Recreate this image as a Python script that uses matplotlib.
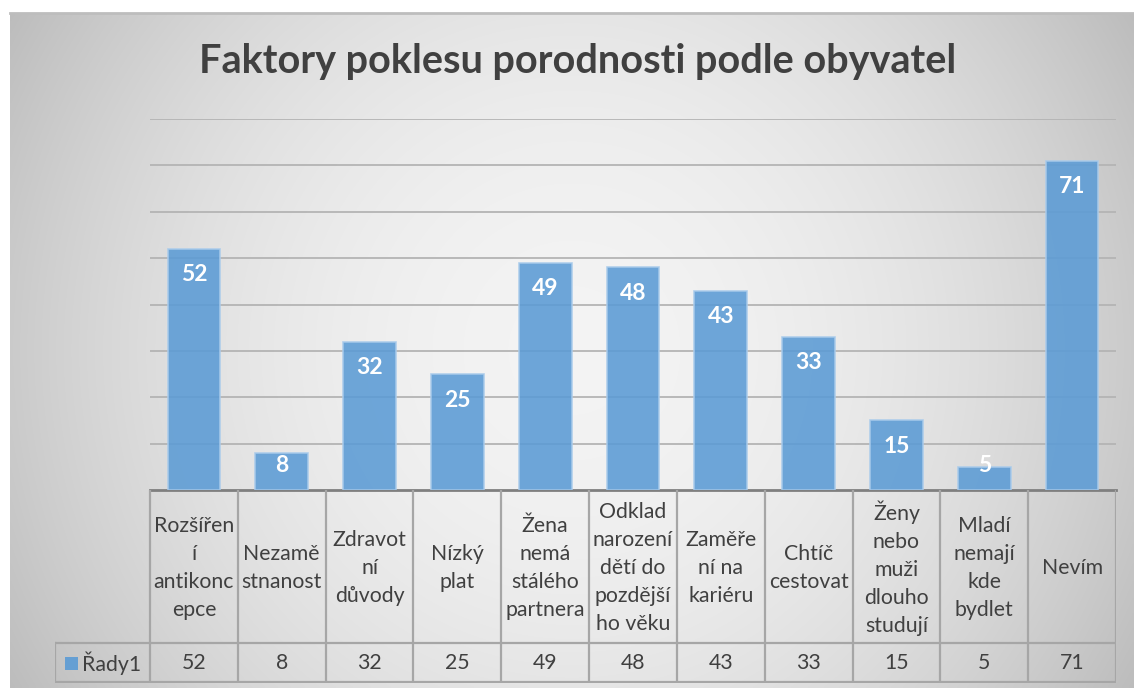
import numpy as np
import matplotlib
matplotlib.use("Agg")
import matplotlib.pyplot as plt
from matplotlib.patches import Rectangle

plt.rcParams['font.family'] = ['Lato', 'DejaVu Sans']

# ---- data ----
categories = [
    "Rozšířen\ní\nantikonc\nepce",
    "Nezamě\nstnanost",
    "Zdravot\nní\ndůvody",
    "Nízký\nplat",
    "Žena\nnemá\nstálého\npartnera",
    "Odklad\nnarození\ndětí do\npozdější\nho věku",
    "Zaměře\nní na\nkariéru",
    "Chtíč\ncestovat",
    "Ženy\nnebo\nmuži\ndlouho\nstudují",
    "Mladí\nnemají\nkde\nbydlet",
    "Nevím",
]
values = [52, 8, 32, 25, 49, 48, 43, 33, 15, 5, 71]
series_name = "Řady1"
title = "Faktory poklesu porodnosti podle obyvatel"
y_max = 80
y_step = 10

W, H = 1134, 688
fig = plt.figure(figsize=(W / 100, H / 100), dpi=100)
fig.patch.set_facecolor('white')

# ---- background gradient (chart area) ----
bx0, by0, bx1, by1 = 10, 13, 1134, 688
bg = fig.add_axes([bx0 / W, 1 - by1 / H, (bx1 - bx0) / W, (by1 - by0) / H])
nx, ny = 400, 240
xx, yy = np.meshgrid(np.linspace(-1, 1, nx), np.linspace(-1, 1, ny))
r2 = xx ** 2 + 0.35 * yy ** 2
g = 0.955 - 0.16 * r2
img = np.dstack([g, g, g])
bg.imshow(img, aspect='auto', extent=(0, 1, 0, 1), interpolation='bilinear')
bg.set_xlim(0, 1); bg.set_ylim(0, 1)
bg.set_xticks([]); bg.set_yticks([])
for s in ['left', 'right', 'bottom']:
    bg.spines[s].set_visible(False)
bg.spines['top'].set_color('#bdbdbd')
bg.spines['top'].set_linewidth(2)

# ---- main axes ----
L, R, T, B = 150, 1116, 119, 490
ax = fig.add_axes([L / W, 1 - B / H, (R - L) / W, (B - T) / H])
ax.patch.set_alpha(0)
x = np.arange(len(values))
bars = ax.bar(x, values, width=0.6, color='#5b9bd5', alpha=0.88,
              edgecolor='#a9cbeb', linewidth=1.2, zorder=3)
ax.set_xlim(-0.5, len(values) - 0.5)
ax.set_ylim(0, y_max)
ax.set_yticks(np.arange(y_step, y_max + 1, y_step))
ax.yaxis.grid(True, color='#b4b4b4', linewidth=1.3, zorder=1)
ax.set_axisbelow(True)
ax.tick_params(left=False, labelleft=False, bottom=False, labelbottom=False)
for s in ['left', 'right', 'top']:
    ax.spines[s].set_visible(False)
ax.spines['bottom'].set_color('#7f7f7f')
ax.spines['bottom'].set_linewidth(2)

px_per_unit = (B - T) / y_max
off = 26 / px_per_unit
min_pos = 24 / px_per_unit
for xi, v in zip(x, values):
    ax.text(xi, max(v - off, min_pos), str(v), ha='center', va='center',
            color='white', fontsize=16.5, fontweight='bold', zorder=4)

# ---- title ----
fig.text(0.509, 1 - 62 / H, title, ha='center', va='center',
         fontsize=28.5, fontweight='bold', color='#404040')

# ---- data table ----
TL, TT, TB = 55, 490, 683
tab = fig.add_axes([TL / W, 1 - TB / H, (R - TL) / W, (TB - TT) / H])
tab.patch.set_alpha(0)
cw = (R - L) / len(values)
xl = -0.5 - (L - TL) / cw
tab.set_xlim(xl, len(values) - 0.5)
tab.set_ylim(TB - TT, 0)
tab.axis('off')
row_split = 153
row_bot = TB - TT
lc = '#a6a6a6'
lw = 1.6
for i in range(len(values) + 1):
    tab.plot([i - 0.5, i - 0.5], [0, row_bot], color=lc, lw=lw,
             solid_capstyle='butt')
tab.plot([xl, xl], [row_split, row_bot], color=lc, lw=lw)
tab.plot([xl, len(values) - 0.5], [row_split, row_split], color=lc, lw=lw)
tab.plot([xl, len(values) - 0.5], [row_bot - 0.8, row_bot - 0.8], color=lc, lw=lw)

for i, (c, v) in enumerate(zip(categories, values)):
    tab.text(i, row_split / 2 + 2, c, ha='center', va='center',
             multialignment='center', fontsize=15.3, color='#404040',
             linespacing=1.5)
    tab.text(i, (row_split + row_bot) / 2, str(v), ha='center', va='center',
             fontsize=15.3, color='#404040')

# legend key + series name
k = 13 / cw
kx = xl + 10 / cw
tab.add_patch(Rectangle((kx, 167), k, 13, facecolor='#5b9bd5',
                        edgecolor='none', alpha=0.9))
tab.text(xl + 27 / cw, (row_split + row_bot) / 2, series_name, ha='left',
         va='center', fontsize=15.3, color='#404040')

fig.savefig('out.png', dpi=100)
